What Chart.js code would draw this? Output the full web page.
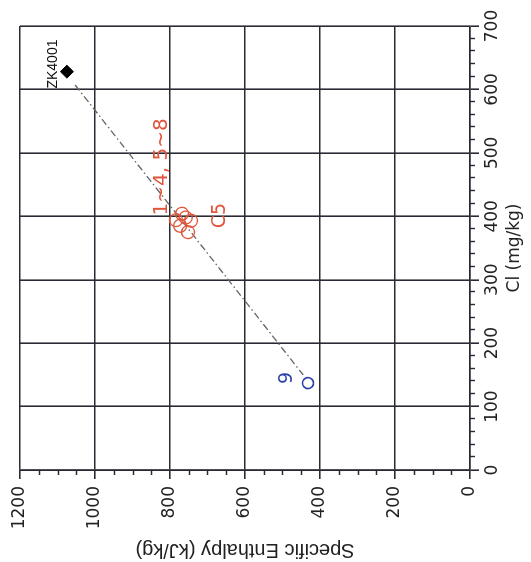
<!DOCTYPE html>
<html><head><meta charset="utf-8">
<script src="https://cdn.jsdelivr.net/npm/chart.js@4"></script>
<style>
html,body{margin:0;padding:0;background:#fff;overflow:hidden}
#page{position:relative;width:531px;height:562px;overflow:hidden;background:#fff}
#wrap{position:absolute;left:0;top:0;width:562px;height:531px;transform-origin:0 0;transform:translateY(562px) rotate(-90deg)}
</style></head><body>
<div id="page"><div id="wrap"><canvas id="c" width="562" height="531"></canvas></div></div>
<script>
// ---- data (x = Cl mg/kg, y = Specific Enthalpy kJ/kg) ----
const clTicks = [0, 100, 200, 300, 400, 500, 600, 700];
const enthalpyTicks = [0, 200, 400, 600, 800, 1000, 1200];
const zk4001 = [{x: 628, y: 1075}];
const redSamples = [
  {x: 404, y: 768}, {x: 394, y: 784}, {x: 385, y: 773},
  {x: 393, y: 744}, {x: 375, y: 752}, {x: 398, y: 758}
];
const sample9 = [{x: 137, y: 432}];
const mixingLine = [{x: 607, y: 1053}, {x: 150, y: 445}];
const labelTexts = ['ZK4001', '1~4, 5~8', 'C5', '9'];
const labelAnchors = [{x: 640, y: 1112}, {x: 478, y: 822}, {x: 401, y: 667}, {x: 145, y: 488}];

// ---- styles ----
const GRID = '#2a2a35';
const labelStyles = [
  {color: '#111', font: '14px "Liberation Sans", Arial, sans-serif'},
  {color: '#e0553a', font: '20px "DejaVu Sans", sans-serif'},
  {color: '#e0553a', font: '19px "DejaVu Sans", sans-serif'},
  {color: '#2a3fa8', font: '19px "DejaVu Sans", sans-serif'}
];

const extras = {
  id: 'extras',
  afterDraw(chart) {
    const {ctx, chartArea: a, scales: {x, y}} = chart;
    ctx.save();
    ctx.strokeStyle = GRID; ctx.lineWidth = 1.4;
    ctx.beginPath();
    for (let v = 0; v <= 700; v += 20) {
      if (v % 100 === 0) continue;
      const p = Math.round(x.getPixelForValue(v)) + 0.5;
      ctx.moveTo(p, a.bottom); ctx.lineTo(p, a.bottom + 5);
    }
    for (let v = 0; v <= 1200; v += 50) {
      if (v % 200 === 0) continue;
      const p = Math.round(y.getPixelForValue(v)) + 0.5;
      ctx.moveTo(a.left - 5, p); ctx.lineTo(a.left, p);
    }
    ctx.stroke();
    ctx.textAlign = 'center'; ctx.textBaseline = 'middle';
    labelTexts.forEach((t, i) => {
      ctx.fillStyle = labelStyles[i].color;
      ctx.font = labelStyles[i].font;
      ctx.fillText(t, x.getPixelForValue(labelAnchors[i].x), y.getPixelForValue(labelAnchors[i].y));
    });
    ctx.restore();
  }
};

new Chart(document.getElementById('c'), {
  type: 'scatter',
  data: {
    datasets: [
      {data: mixingLine, showLine: true, borderColor: '#666', borderWidth: 1.3,
       borderDash: [7, 3, 1.5, 3], pointRadius: 0, order: 5},
      {data: zk4001, pointStyle: 'rectRot', pointRadius: 6.5, backgroundColor: '#000',
       borderColor: '#000', borderWidth: 1, order: 1},
      {data: redSamples, pointStyle: 'circle', pointRadius: 6.5, backgroundColor: 'rgba(0,0,0,0)',
       borderColor: '#e0553a', borderWidth: 1.3, order: 2},
      {data: sample9, pointStyle: 'circle', pointRadius: 5.5, backgroundColor: 'rgba(0,0,0,0)',
       borderColor: '#2a3fa8', borderWidth: 1.6, order: 3}
    ]
  },
  options: {
    responsive: false,
    animation: false,
    events: [],
    layout: {padding: {top: 20, right: 26, bottom: 0, left: 0}},
    plugins: {legend: {display: false}, tooltip: {enabled: false}},
    scales: {
      x: {
        type: 'linear', min: 0, max: 700,
        afterBuildTicks: s => { s.ticks = clTicks.map(v => ({value: v})); },
        afterFit: s => { s.height = 61; },
        grid: {color: GRID, lineWidth: 1.6, tickLength: 9, tickColor: GRID},
        border: {color: GRID, width: 1.6},
        ticks: {color: '#222', padding: 3, maxRotation: 0, autoSkip: false,
                callback: v => String(v),
                font: {family: '"DejaVu Sans", sans-serif', size: 17}},
        title: {display: true, text: 'Cl (mg/kg)', color: '#222',
                font: {family: '"DejaVu Sans", sans-serif', size: 17}, padding: {top: 0, bottom: 6}}
      },
      y: {
        type: 'linear', min: 0, max: 1200,
        afterBuildTicks: s => { s.ticks = enthalpyTicks.map(v => ({value: v})); },
        afterFit: s => { s.width = 92; },
        grid: {color: GRID, lineWidth: 1.6, tickLength: 9, tickColor: GRID},
        border: {color: GRID, width: 1.6},
        ticks: {color: '#222', padding: 7, autoSkip: false,
                callback: v => String(v),
                font: {family: '"DejaVu Sans", sans-serif', size: 17}},
        title: {display: true, text: 'Specific Enthalpy (kJ/kg)', color: '#222',
                font: {family: '"Liberation Sans", Arial, sans-serif', size: 20}, padding: {top: 0, bottom: 0}}
      }
    }
  },
  plugins: [extras]
});
</script>
</body></html>
